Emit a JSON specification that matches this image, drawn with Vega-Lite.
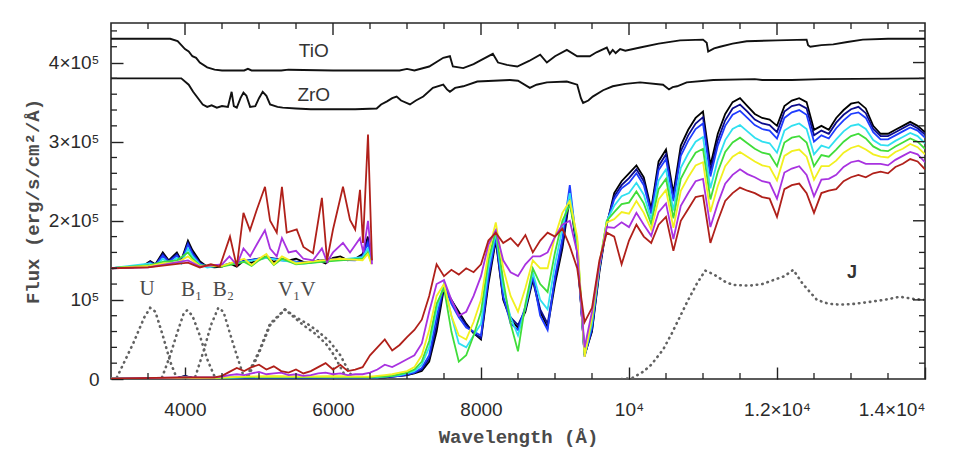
{
  "$schema": "https://vega.github.io/schema/vega-lite/v6.json",
  "width": 814,
  "height": 356,
  "autosize": "none",
  "padding": {"left": 111, "top": 23, "right": 40, "bottom": 70},
  "background": "white",
  "config": {
    "view": {"stroke": "#262626", "strokeWidth": 1.6},
    "axis": {"grid": false, "domain": false, "labelColor": "#2a2a2a", "titleColor": "#4a4a4a", "tickColor": "#222222", "tickWidth": 1.4}
  },
  "datasets": {
    "xt": [
      {"w":3500,"k":"minor"},{"w":4000,"k":"major"},{"w":4500,"k":"minor"},{"w":5000,"k":"minor"},{"w":5500,"k":"minor"},{"w":6000,"k":"major"},{"w":6500,"k":"minor"},{"w":7000,"k":"minor"},{"w":7500,"k":"minor"},{"w":8000,"k":"major"},{"w":8500,"k":"minor"},{"w":9000,"k":"minor"},{"w":9500,"k":"minor"},{"w":10000,"k":"major"},{"w":10500,"k":"minor"},{"w":11000,"k":"minor"},{"w":11500,"k":"minor"},{"w":12000,"k":"major"},{"w":12500,"k":"minor"},{"w":13000,"k":"minor"},{"w":13500,"k":"minor"}
    ],
    "yt": [
      {"f":20000,"k":"minor"},{"f":40000,"k":"minor"},{"f":60000,"k":"minor"},{"f":80000,"k":"minor"},{"f":100000,"k":"major"},{"f":120000,"k":"minor"},{"f":140000,"k":"minor"},{"f":160000,"k":"minor"},{"f":180000,"k":"minor"},{"f":200000,"k":"major"},{"f":220000,"k":"minor"},{"f":240000,"k":"minor"},{"f":260000,"k":"minor"},{"f":280000,"k":"minor"},{"f":300000,"k":"major"},{"f":320000,"k":"minor"},{"f":340000,"k":"minor"},{"f":360000,"k":"minor"},{"f":380000,"k":"minor"},{"f":400000,"k":"major"},{"f":420000,"k":"minor"},{"f":440000,"k":"minor"}
    ],
    "filters": [
      {"fl":"U","w":3080,"f":0.02e5},{"fl":"U","w":3300,"f":0.45e5},{"fl":"U","w":3450,"f":0.78e5},{"fl":"U","w":3530,"f":0.9e5},{"fl":"U","w":3600,"f":0.85e5},{"fl":"U","w":3700,"f":0.55e5},{"fl":"U","w":3800,"f":0.22e5},{"fl":"U","w":3880,"f":0.03e5},
      {"fl":"B1","w":3690,"f":0.02e5},{"fl":"B1","w":3800,"f":0.3e5},{"fl":"B1","w":3900,"f":0.6e5},{"fl":"B1","w":3980,"f":0.82e5},{"fl":"B1","w":4030,"f":0.87e5},{"fl":"B1","w":4100,"f":0.8e5},{"fl":"B1","w":4200,"f":0.55e5},{"fl":"B1","w":4300,"f":0.25e5},{"fl":"B1","w":4400,"f":0.03e5},
      {"fl":"B2","w":4140,"f":0.03e5},{"fl":"B2","w":4250,"f":0.35e5},{"fl":"B2","w":4350,"f":0.68e5},{"fl":"B2","w":4450,"f":0.9e5},{"fl":"B2","w":4520,"f":0.85e5},{"fl":"B2","w":4600,"f":0.6e5},{"fl":"B2","w":4700,"f":0.3e5},{"fl":"B2","w":4790,"f":0.04e5},
      {"fl":"V1","w":4840,"f":0.04e5},{"fl":"V1","w":5000,"f":0.35e5},{"fl":"V1","w":5150,"f":0.7e5},{"fl":"V1","w":5350,"f":0.88e5},{"fl":"V1","w":5500,"f":0.76e5},{"fl":"V1","w":5600,"f":0.68e5},{"fl":"V1","w":5750,"f":0.58e5},{"fl":"V1","w":5900,"f":0.45e5},{"fl":"V1","w":6000,"f":0.32e5},{"fl":"V1","w":6100,"f":0.15e5},{"fl":"V1","w":6170,"f":0.03e5},
      {"fl":"V","w":4860,"f":0.04e5},{"fl":"V","w":5000,"f":0.33e5},{"fl":"V","w":5150,"f":0.68e5},{"fl":"V","w":5350,"f":0.88e5},{"fl":"V","w":5500,"f":0.78e5},{"fl":"V","w":5650,"f":0.7e5},{"fl":"V","w":5800,"f":0.6e5},{"fl":"V","w":5950,"f":0.48e5},{"fl":"V","w":6100,"f":0.3e5},{"fl":"V","w":6200,"f":0.12e5},{"fl":"V","w":6260,"f":0.03e5},
      {"fl":"J","w":9900,"f":0.0},{"fl":"J","w":10040,"f":0.01e5},{"fl":"J","w":10190,"f":0.09e5},{"fl":"J","w":10300,"f":0.18e5},{"fl":"J","w":10460,"f":0.37e5},{"fl":"J","w":10580,"f":0.58e5},{"fl":"J","w":10690,"f":0.79e5},{"fl":"J","w":10800,"f":1.0e5},{"fl":"J","w":10920,"f":1.21e5},{"fl":"J","w":11030,"f":1.37e5},{"fl":"J","w":11150,"f":1.32e5},{"fl":"J","w":11300,"f":1.23e5},{"fl":"J","w":11400,"f":1.19e5},{"fl":"J","w":11630,"f":1.18e5},{"fl":"J","w":11800,"f":1.2e5},{"fl":"J","w":11950,"f":1.25e5},{"fl":"J","w":12100,"f":1.3e5},{"fl":"J","w":12220,"f":1.38e5},{"fl":"J","w":12350,"f":1.2e5},{"fl":"J","w":12540,"f":1.0e5},{"fl":"J","w":12700,"f":0.95e5},{"fl":"J","w":12850,"f":0.94e5},{"fl":"J","w":13050,"f":0.95e5},{"fl":"J","w":13220,"f":0.97e5},{"fl":"J","w":13450,"f":1.0e5},{"fl":"J","w":13660,"f":1.04e5},{"fl":"J","w":13860,"f":1.01e5},{"fl":"J","w":14000,"f":1.0e5}
    ],
    "bands": [
      {"m":"TiO","w":3000,"f":4.3e5},{"m":"TiO","w":3800,"f":4.3e5},{"m":"TiO","w":3900,"f":4.27e5},{"m":"TiO","w":4000,"f":4.17e5},{"m":"TiO","w":4050,"f":4.14e5},{"m":"TiO","w":4100,"f":4.08e5},{"m":"TiO","w":4150,"f":4.06e5},{"m":"TiO","w":4200,"f":4.0e5},{"m":"TiO","w":4300,"f":3.94e5},{"m":"TiO","w":4400,"f":3.91e5},{"m":"TiO","w":4500,"f":3.9e5},{"m":"TiO","w":4800,"f":3.9e5},{"m":"TiO","w":4850,"f":3.92e5},{"m":"TiO","w":4900,"f":3.9e5},{"m":"TiO","w":5300,"f":3.9e5},{"m":"TiO","w":5400,"f":3.91e5},{"m":"TiO","w":6000,"f":3.9e5},{"m":"TiO","w":6500,"f":3.9e5},{"m":"TiO","w":6900,"f":3.9e5},{"m":"TiO","w":7000,"f":3.92e5},{"m":"TiO","w":7100,"f":3.9e5},{"m":"TiO","w":7300,"f":3.95e5},{"m":"TiO","w":7490,"f":4.06e5},{"m":"TiO","w":7580,"f":4.08e5},{"m":"TiO","w":7620,"f":3.95e5},{"m":"TiO","w":7760,"f":3.93e5},{"m":"TiO","w":7900,"f":3.98e5},{"m":"TiO","w":8000,"f":4.03e5},{"m":"TiO","w":8160,"f":4.11e5},{"m":"TiO","w":8230,"f":4.0e5},{"m":"TiO","w":8350,"f":3.97e5},{"m":"TiO","w":8490,"f":3.95e5},{"m":"TiO","w":8650,"f":4.02e5},{"m":"TiO","w":8800,"f":4.1e5},{"m":"TiO","w":8890,"f":4.0e5},{"m":"TiO","w":9000,"f":4.08e5},{"m":"TiO","w":9160,"f":4.16e5},{"m":"TiO","w":9300,"f":4.08e5},{"m":"TiO","w":9470,"f":4.08e5},{"m":"TiO","w":9560,"f":4.13e5},{"m":"TiO","w":9700,"f":4.19e5},{"m":"TiO","w":9740,"f":4.11e5},{"m":"TiO","w":9780,"f":4.16e5},{"m":"TiO","w":9820,"f":4.12e5},{"m":"TiO","w":9880,"f":4.17e5},{"m":"TiO","w":9950,"f":4.15e5},{"m":"TiO","w":10150,"f":4.19e5},{"m":"TiO","w":10400,"f":4.24e5},{"m":"TiO","w":10690,"f":4.28e5},{"m":"TiO","w":11000,"f":4.29e5},{"m":"TiO","w":11050,"f":4.25e5},{"m":"TiO","w":11070,"f":4.14e5},{"m":"TiO","w":11150,"f":4.18e5},{"m":"TiO","w":11230,"f":4.2e5},{"m":"TiO","w":11400,"f":4.24e5},{"m":"TiO","w":11590,"f":4.27e5},{"m":"TiO","w":12000,"f":4.28e5},{"m":"TiO","w":12400,"f":4.29e5},{"m":"TiO","w":12420,"f":4.22e5},{"m":"TiO","w":12450,"f":4.2e5},{"m":"TiO","w":12600,"f":4.22e5},{"m":"TiO","w":12760,"f":4.23e5},{"m":"TiO","w":12950,"f":4.26e5},{"m":"TiO","w":13160,"f":4.29e5},{"m":"TiO","w":13500,"f":4.3e5},{"m":"TiO","w":14000,"f":4.3e5},
      {"m":"ZrO","w":3000,"f":3.8e5},{"m":"ZrO","w":3950,"f":3.8e5},{"m":"ZrO","w":4050,"f":3.72e5},{"m":"ZrO","w":4110,"f":3.63e5},{"m":"ZrO","w":4240,"f":3.47e5},{"m":"ZrO","w":4300,"f":3.44e5},{"m":"ZrO","w":4360,"f":3.46e5},{"m":"ZrO","w":4430,"f":3.43e5},{"m":"ZrO","w":4500,"f":3.45e5},{"m":"ZrO","w":4580,"f":3.44e5},{"m":"ZrO","w":4630,"f":3.63e5},{"m":"ZrO","w":4660,"f":3.45e5},{"m":"ZrO","w":4700,"f":3.43e5},{"m":"ZrO","w":4750,"f":3.55e5},{"m":"ZrO","w":4790,"f":3.62e5},{"m":"ZrO","w":4830,"f":3.58e5},{"m":"ZrO","w":4880,"f":3.44e5},{"m":"ZrO","w":4950,"f":3.45e5},{"m":"ZrO","w":5000,"f":3.55e5},{"m":"ZrO","w":5050,"f":3.63e5},{"m":"ZrO","w":5100,"f":3.58e5},{"m":"ZrO","w":5150,"f":3.47e5},{"m":"ZrO","w":5250,"f":3.44e5},{"m":"ZrO","w":5320,"f":3.43e5},{"m":"ZrO","w":5500,"f":3.42e5},{"m":"ZrO","w":5700,"f":3.41e5},{"m":"ZrO","w":6000,"f":3.41e5},{"m":"ZrO","w":6300,"f":3.41e5},{"m":"ZrO","w":6590,"f":3.42e5},{"m":"ZrO","w":6650,"f":3.47e5},{"m":"ZrO","w":6730,"f":3.51e5},{"m":"ZrO","w":6800,"f":3.55e5},{"m":"ZrO","w":6860,"f":3.57e5},{"m":"ZrO","w":6920,"f":3.52e5},{"m":"ZrO","w":7040,"f":3.47e5},{"m":"ZrO","w":7120,"f":3.52e5},{"m":"ZrO","w":7220,"f":3.57e5},{"m":"ZrO","w":7350,"f":3.68e5},{"m":"ZrO","w":7490,"f":3.72e5},{"m":"ZrO","w":7540,"f":3.66e5},{"m":"ZrO","w":7580,"f":3.63e5},{"m":"ZrO","w":7650,"f":3.68e5},{"m":"ZrO","w":7760,"f":3.7e5},{"m":"ZrO","w":7950,"f":3.76e5},{"m":"ZrO","w":8390,"f":3.78e5},{"m":"ZrO","w":8500,"f":3.77e5},{"m":"ZrO","w":8660,"f":3.68e5},{"m":"ZrO","w":8750,"f":3.72e5},{"m":"ZrO","w":8890,"f":3.75e5},{"m":"ZrO","w":9160,"f":3.76e5},{"m":"ZrO","w":9300,"f":3.72e5},{"m":"ZrO","w":9350,"f":3.55e5},{"m":"ZrO","w":9380,"f":3.49e5},{"m":"ZrO","w":9450,"f":3.52e5},{"m":"ZrO","w":9510,"f":3.57e5},{"m":"ZrO","w":9650,"f":3.65e5},{"m":"ZrO","w":9780,"f":3.7e5},{"m":"ZrO","w":9950,"f":3.73e5},{"m":"ZrO","w":10150,"f":3.75e5},{"m":"ZrO","w":10460,"f":3.72e5},{"m":"ZrO","w":10540,"f":3.66e5},{"m":"ZrO","w":10590,"f":3.69e5},{"m":"ZrO","w":10650,"f":3.7e5},{"m":"ZrO","w":10780,"f":3.75e5},{"m":"ZrO","w":11140,"f":3.78e5},{"m":"ZrO","w":11700,"f":3.79e5},{"m":"ZrO","w":11800,"f":3.78e5},{"m":"ZrO","w":12200,"f":3.78e5},{"m":"ZrO","w":12600,"f":3.79e5},{"m":"ZrO","w":14000,"f":3.8e5}
    ],
    "spec": [
      {"s":"k","w":3000,"f":0.005e5},{"s":"k","w":3500,"f":0.01e5},{"s":"k","w":3900,"f":0.015e5},{"s":"k","w":4000,"f":0.04e5},{"s":"k","w":4100,"f":0.015e5},{"s":"k","w":4400,"f":0.01e5},{"s":"k","w":4800,"f":0.015e5},{"s":"k","w":5200,"f":0.02e5},{"s":"k","w":5600,"f":0.015e5},{"s":"k","w":6000,"f":0.02e5},{"s":"k","w":6400,"f":0.02e5},
      {"s":"k","w":6500,"f":0.02e5},{"s":"k","w":6600,"f":0.02e5},{"s":"k","w":6700,"f":0.02e5},{"s":"k","w":6800,"f":0.03e5},{"s":"k","w":6900,"f":0.04e5},{"s":"k","w":7000,"f":0.05e5},{"s":"k","w":7100,"f":0.07e5},{"s":"k","w":7200,"f":0.1e5},{"s":"k","w":7300,"f":0.22e5},{"s":"k","w":7400,"f":0.6e5},{"s":"k","w":7500,"f":1.15e5},{"s":"k","w":7600,"f":1.0e5},{"s":"k","w":7700,"f":0.85e5},{"s":"k","w":7800,"f":0.7e5},{"s":"k","w":7900,"f":0.58e5},{"s":"k","w":8000,"f":0.5e5},{"s":"k","w":8100,"f":1.2e5},{"s":"k","w":8200,"f":1.75e5},{"s":"k","w":8300,"f":1.0e5},{"s":"k","w":8400,"f":0.75e5},{"s":"k","w":8500,"f":0.65e5},{"s":"k","w":8600,"f":0.85e5},{"s":"k","w":8700,"f":1.25e5},{"s":"k","w":8800,"f":0.85e5},{"s":"k","w":8900,"f":0.65e5},{"s":"k","w":9000,"f":1.2e5},{"s":"k","w":9100,"f":1.65e5},{"s":"k","w":9200,"f":2.3e5},{"s":"k","w":9300,"f":1.6e5},{"s":"k","w":9400,"f":0.3e5},{"s":"k","w":9500,"f":0.6e5},{"s":"k","w":9600,"f":1.35e5},{"s":"k","w":9700,"f":1.95e5},
      {"s":"k","w":9800,"f":2.35e5},{"s":"k","w":9900,"f":2.5e5},{"s":"k","w":10000,"f":2.6e5},{"s":"k","w":10100,"f":2.7e5},{"s":"k","w":10200,"f":2.55e5},{"s":"k","w":10300,"f":2.15e5},{"s":"k","w":10400,"f":2.75e5},{"s":"k","w":10500,"f":2.9e5},{"s":"k","w":10600,"f":2.35e5},{"s":"k","w":10700,"f":2.95e5},{"s":"k","w":10800,"f":3.15e5},{"s":"k","w":10900,"f":3.3e5},{"s":"k","w":11000,"f":3.38e5},{"s":"k","w":11100,"f":2.7e5},{"s":"k","w":11200,"f":3.1e5},{"s":"k","w":11300,"f":3.35e5},{"s":"k","w":11400,"f":3.5e5},{"s":"k","w":11500,"f":3.55e5},{"s":"k","w":11600,"f":3.45e5},{"s":"k","w":11700,"f":3.35e5},{"s":"k","w":11800,"f":3.3e5},{"s":"k","w":11900,"f":3.28e5},{"s":"k","w":12000,"f":3.2e5},{"s":"k","w":12100,"f":3.45e5},{"s":"k","w":12200,"f":3.52e5},{"s":"k","w":12300,"f":3.55e5},{"s":"k","w":12400,"f":3.5e5},{"s":"k","w":12500,"f":3.15e5},{"s":"k","w":12600,"f":3.2e5},{"s":"k","w":12700,"f":3.15e5},{"s":"k","w":12800,"f":3.3e5},{"s":"k","w":12900,"f":3.4e5},{"s":"k","w":13000,"f":3.48e5},{"s":"k","w":13100,"f":3.5e5},{"s":"k","w":13200,"f":3.42e5},{"s":"k","w":13300,"f":3.2e5},{"s":"k","w":13400,"f":3.1e5},{"s":"k","w":13500,"f":3.1e5},{"s":"k","w":13600,"f":3.15e5},{"s":"k","w":13700,"f":3.2e5},{"s":"k","w":13800,"f":3.25e5},{"s":"k","w":13900,"f":3.2e5},{"s":"k","w":14000,"f":3.12e5},

      {"s":"n","w":3000,"f":0.005e5},{"s":"n","w":3500,"f":0.01e5},{"s":"n","w":3900,"f":0.015e5},{"s":"n","w":4000,"f":0.035e5},{"s":"n","w":4100,"f":0.015e5},{"s":"n","w":4400,"f":0.01e5},{"s":"n","w":4800,"f":0.015e5},{"s":"n","w":5200,"f":0.02e5},{"s":"n","w":5600,"f":0.015e5},{"s":"n","w":6000,"f":0.02e5},{"s":"n","w":6400,"f":0.02e5},
      {"s":"n","w":6500,"f":0.02e5},{"s":"n","w":6600,"f":0.02e5},{"s":"n","w":6700,"f":0.02e5},{"s":"n","w":6800,"f":0.03e5},{"s":"n","w":6900,"f":0.04e5},{"s":"n","w":7000,"f":0.05e5},{"s":"n","w":7100,"f":0.08e5},{"s":"n","w":7200,"f":0.12e5},{"s":"n","w":7300,"f":0.26e5},{"s":"n","w":7400,"f":0.68e5},{"s":"n","w":7500,"f":1.18e5},{"s":"n","w":7600,"f":1.0e5},{"s":"n","w":7700,"f":0.82e5},{"s":"n","w":7800,"f":0.68e5},{"s":"n","w":7900,"f":0.58e5},{"s":"n","w":8000,"f":0.52e5},{"s":"n","w":8100,"f":1.25e5},{"s":"n","w":8200,"f":1.78e5},{"s":"n","w":8300,"f":1.02e5},{"s":"n","w":8400,"f":0.78e5},{"s":"n","w":8500,"f":0.68e5},{"s":"n","w":8600,"f":0.88e5},{"s":"n","w":8700,"f":1.28e5},{"s":"n","w":8800,"f":0.88e5},{"s":"n","w":8900,"f":0.7e5},{"s":"n","w":9000,"f":1.25e5},{"s":"n","w":9100,"f":1.7e5},{"s":"n","w":9200,"f":2.35e5},{"s":"n","w":9300,"f":1.62e5},{"s":"n","w":9400,"f":0.3e5},{"s":"n","w":9500,"f":0.62e5},{"s":"n","w":9600,"f":1.38e5},{"s":"n","w":9700,"f":1.96e5},
      {"s":"n","w":9800,"f":2.31e5},{"s":"n","w":9900,"f":2.45e5},{"s":"n","w":10000,"f":2.54e5},{"s":"n","w":10100,"f":2.65e5},{"s":"n","w":10200,"f":2.5e5},{"s":"n","w":10300,"f":2.12e5},{"s":"n","w":10400,"f":2.69e5},{"s":"n","w":10500,"f":2.84e5},{"s":"n","w":10600,"f":2.3e5},{"s":"n","w":10700,"f":2.88e5},{"s":"n","w":10800,"f":3.08e5},{"s":"n","w":10900,"f":3.23e5},{"s":"n","w":11000,"f":3.31e5},{"s":"n","w":11100,"f":2.63e5},{"s":"n","w":11200,"f":3.02e5},{"s":"n","w":11300,"f":3.27e5},{"s":"n","w":11400,"f":3.42e5},{"s":"n","w":11500,"f":3.47e5},{"s":"n","w":11600,"f":3.38e5},{"s":"n","w":11700,"f":3.28e5},{"s":"n","w":11800,"f":3.23e5},{"s":"n","w":11900,"f":3.21e5},{"s":"n","w":12000,"f":3.12e5},{"s":"n","w":12100,"f":3.38e5},{"s":"n","w":12200,"f":3.45e5},{"s":"n","w":12300,"f":3.47e5},{"s":"n","w":12400,"f":3.42e5},{"s":"n","w":12500,"f":3.08e5},{"s":"n","w":12600,"f":3.14e5},{"s":"n","w":12700,"f":3.1e5},{"s":"n","w":12800,"f":3.24e5},{"s":"n","w":12900,"f":3.34e5},{"s":"n","w":13000,"f":3.41e5},{"s":"n","w":13100,"f":3.44e5},{"s":"n","w":13200,"f":3.36e5},{"s":"n","w":13300,"f":3.16e5},{"s":"n","w":13400,"f":3.07e5},{"s":"n","w":13500,"f":3.07e5},{"s":"n","w":13600,"f":3.12e5},{"s":"n","w":13700,"f":3.17e5},{"s":"n","w":13800,"f":3.22e5},{"s":"n","w":13900,"f":3.17e5},{"s":"n","w":14000,"f":3.09e5},

      {"s":"b","w":3000,"f":0.005e5},{"s":"b","w":3500,"f":0.01e5},{"s":"b","w":3900,"f":0.015e5},{"s":"b","w":4000,"f":0.03e5},{"s":"b","w":4100,"f":0.015e5},{"s":"b","w":4400,"f":0.01e5},{"s":"b","w":4800,"f":0.02e5},{"s":"b","w":5200,"f":0.02e5},{"s":"b","w":5600,"f":0.02e5},{"s":"b","w":6000,"f":0.02e5},{"s":"b","w":6400,"f":0.02e5},
      {"s":"b","w":6500,"f":0.02e5},{"s":"b","w":6600,"f":0.02e5},{"s":"b","w":6700,"f":0.03e5},{"s":"b","w":6800,"f":0.03e5},{"s":"b","w":6900,"f":0.04e5},{"s":"b","w":7000,"f":0.06e5},{"s":"b","w":7100,"f":0.08e5},{"s":"b","w":7200,"f":0.14e5},{"s":"b","w":7300,"f":0.3e5},{"s":"b","w":7400,"f":0.78e5},{"s":"b","w":7500,"f":1.2e5},{"s":"b","w":7600,"f":0.95e5},{"s":"b","w":7700,"f":0.78e5},{"s":"b","w":7800,"f":0.65e5},{"s":"b","w":7900,"f":0.6e5},{"s":"b","w":8000,"f":0.55e5},{"s":"b","w":8100,"f":1.3e5},{"s":"b","w":8200,"f":1.8e5},{"s":"b","w":8300,"f":1.05e5},{"s":"b","w":8400,"f":0.7e5},{"s":"b","w":8500,"f":0.62e5},{"s":"b","w":8600,"f":0.92e5},{"s":"b","w":8700,"f":1.3e5},{"s":"b","w":8800,"f":0.8e5},{"s":"b","w":8900,"f":0.62e5},{"s":"b","w":9000,"f":1.3e5},{"s":"b","w":9100,"f":1.78e5},{"s":"b","w":9200,"f":2.45e5},{"s":"b","w":9300,"f":1.65e5},{"s":"b","w":9400,"f":0.28e5},{"s":"b","w":9500,"f":0.65e5},{"s":"b","w":9600,"f":1.4e5},{"s":"b","w":9700,"f":1.98e5},
      {"s":"b","w":9800,"f":2.27e5},{"s":"b","w":9900,"f":2.41e5},{"s":"b","w":10000,"f":2.48e5},{"s":"b","w":10100,"f":2.6e5},{"s":"b","w":10200,"f":2.45e5},{"s":"b","w":10300,"f":2.09e5},{"s":"b","w":10400,"f":2.64e5},{"s":"b","w":10500,"f":2.78e5},{"s":"b","w":10600,"f":2.25e5},{"s":"b","w":10700,"f":2.82e5},{"s":"b","w":10800,"f":3.01e5},{"s":"b","w":10900,"f":3.16e5},{"s":"b","w":11000,"f":3.23e5},{"s":"b","w":11100,"f":2.56e5},{"s":"b","w":11200,"f":2.95e5},{"s":"b","w":11300,"f":3.2e5},{"s":"b","w":11400,"f":3.34e5},{"s":"b","w":11500,"f":3.39e5},{"s":"b","w":11600,"f":3.3e5},{"s":"b","w":11700,"f":3.21e5},{"s":"b","w":11800,"f":3.16e5},{"s":"b","w":11900,"f":3.14e5},{"s":"b","w":12000,"f":3.04e5},{"s":"b","w":12100,"f":3.3e5},{"s":"b","w":12200,"f":3.37e5},{"s":"b","w":12300,"f":3.4e5},{"s":"b","w":12400,"f":3.34e5},{"s":"b","w":12500,"f":3.0e5},{"s":"b","w":12600,"f":3.08e5},{"s":"b","w":12700,"f":3.04e5},{"s":"b","w":12800,"f":3.17e5},{"s":"b","w":12900,"f":3.27e5},{"s":"b","w":13000,"f":3.35e5},{"s":"b","w":13100,"f":3.37e5},{"s":"b","w":13200,"f":3.3e5},{"s":"b","w":13300,"f":3.12e5},{"s":"b","w":13400,"f":3.03e5},{"s":"b","w":13500,"f":3.03e5},{"s":"b","w":13600,"f":3.08e5},{"s":"b","w":13700,"f":3.13e5},{"s":"b","w":13800,"f":3.18e5},{"s":"b","w":13900,"f":3.14e5},{"s":"b","w":14000,"f":3.05e5},

      {"s":"c","w":3000,"f":0.005e5},{"s":"c","w":3500,"f":0.008e5},{"s":"c","w":3900,"f":0.012e5},{"s":"c","w":4000,"f":0.025e5},{"s":"c","w":4100,"f":0.012e5},{"s":"c","w":4400,"f":0.012e5},{"s":"c","w":4800,"f":0.02e5},{"s":"c","w":5200,"f":0.025e5},{"s":"c","w":5600,"f":0.02e5},{"s":"c","w":6000,"f":0.025e5},{"s":"c","w":6400,"f":0.02e5},
      {"s":"c","w":6500,"f":0.02e5},{"s":"c","w":6600,"f":0.02e5},{"s":"c","w":6700,"f":0.03e5},{"s":"c","w":6800,"f":0.04e5},{"s":"c","w":6900,"f":0.05e5},{"s":"c","w":7000,"f":0.07e5},{"s":"c","w":7100,"f":0.1e5},{"s":"c","w":7200,"f":0.18e5},{"s":"c","w":7300,"f":0.4e5},{"s":"c","w":7400,"f":0.88e5},{"s":"c","w":7500,"f":1.2e5},{"s":"c","w":7600,"f":0.8e5},{"s":"c","w":7700,"f":0.45e5},{"s":"c","w":7800,"f":0.4e5},{"s":"c","w":7900,"f":0.55e5},{"s":"c","w":8000,"f":0.7e5},{"s":"c","w":8100,"f":1.4e5},{"s":"c","w":8200,"f":1.85e5},{"s":"c","w":8300,"f":1.15e5},{"s":"c","w":8400,"f":0.78e5},{"s":"c","w":8500,"f":0.55e5},{"s":"c","w":8600,"f":0.9e5},{"s":"c","w":8700,"f":1.35e5},{"s":"c","w":8800,"f":1.0e5},{"s":"c","w":8900,"f":0.88e5},{"s":"c","w":9000,"f":1.45e5},{"s":"c","w":9100,"f":1.9e5},{"s":"c","w":9200,"f":2.35e5},{"s":"c","w":9300,"f":1.7e5},{"s":"c","w":9400,"f":0.3e5},{"s":"c","w":9500,"f":0.7e5},{"s":"c","w":9600,"f":1.42e5},{"s":"c","w":9700,"f":2.0e5},
      {"s":"c","w":9800,"f":2.19e5},{"s":"c","w":9900,"f":2.31e5},{"s":"c","w":10000,"f":2.35e5},{"s":"c","w":10100,"f":2.48e5},{"s":"c","w":10200,"f":2.33e5},{"s":"c","w":10300,"f":2.02e5},{"s":"c","w":10400,"f":2.51e5},{"s":"c","w":10500,"f":2.65e5},{"s":"c","w":10600,"f":2.13e5},{"s":"c","w":10700,"f":2.67e5},{"s":"c","w":10800,"f":2.85e5},{"s":"c","w":10900,"f":3.0e5},{"s":"c","w":11000,"f":3.06e5},{"s":"c","w":11100,"f":2.41e5},{"s":"c","w":11200,"f":2.77e5},{"s":"c","w":11300,"f":3.02e5},{"s":"c","w":11400,"f":3.16e5},{"s":"c","w":11500,"f":3.21e5},{"s":"c","w":11600,"f":3.13e5},{"s":"c","w":11700,"f":3.05e5},{"s":"c","w":11800,"f":3.0e5},{"s":"c","w":11900,"f":2.98e5},{"s":"c","w":12000,"f":2.86e5},{"s":"c","w":12100,"f":3.14e5},{"s":"c","w":12200,"f":3.2e5},{"s":"c","w":12300,"f":3.23e5},{"s":"c","w":12400,"f":3.16e5},{"s":"c","w":12500,"f":2.84e5},{"s":"c","w":12600,"f":2.95e5},{"s":"c","w":12700,"f":2.92e5},{"s":"c","w":12800,"f":3.03e5},{"s":"c","w":12900,"f":3.13e5},{"s":"c","w":13000,"f":3.2e5},{"s":"c","w":13100,"f":3.22e5},{"s":"c","w":13200,"f":3.16e5},{"s":"c","w":13300,"f":3.02e5},{"s":"c","w":13400,"f":2.96e5},{"s":"c","w":13500,"f":2.95e5},{"s":"c","w":13600,"f":3.01e5},{"s":"c","w":13700,"f":3.06e5},{"s":"c","w":13800,"f":3.11e5},{"s":"c","w":13900,"f":3.07e5},{"s":"c","w":14000,"f":2.98e5},

      {"s":"g","w":3000,"f":0.005e5},{"s":"g","w":3500,"f":0.008e5},{"s":"g","w":3900,"f":0.01e5},{"s":"g","w":4000,"f":0.02e5},{"s":"g","w":4100,"f":0.01e5},{"s":"g","w":4400,"f":0.012e5},{"s":"g","w":4800,"f":0.025e5},{"s":"g","w":5200,"f":0.03e5},{"s":"g","w":5600,"f":0.025e5},{"s":"g","w":6000,"f":0.03e5},{"s":"g","w":6400,"f":0.025e5},
      {"s":"g","w":6500,"f":0.02e5},{"s":"g","w":6600,"f":0.03e5},{"s":"g","w":6700,"f":0.03e5},{"s":"g","w":6800,"f":0.04e5},{"s":"g","w":6900,"f":0.06e5},{"s":"g","w":7000,"f":0.08e5},{"s":"g","w":7100,"f":0.12e5},{"s":"g","w":7200,"f":0.22e5},{"s":"g","w":7300,"f":0.48e5},{"s":"g","w":7400,"f":0.95e5},{"s":"g","w":7500,"f":1.15e5},{"s":"g","w":7600,"f":0.6e5},{"s":"g","w":7700,"f":0.22e5},{"s":"g","w":7800,"f":0.3e5},{"s":"g","w":7900,"f":0.55e5},{"s":"g","w":8000,"f":0.85e5},{"s":"g","w":8100,"f":1.5e5},{"s":"g","w":8200,"f":1.88e5},{"s":"g","w":8300,"f":1.25e5},{"s":"g","w":8400,"f":0.7e5},{"s":"g","w":8500,"f":0.35e5},{"s":"g","w":8600,"f":0.95e5},{"s":"g","w":8700,"f":1.4e5},{"s":"g","w":8800,"f":1.2e5},{"s":"g","w":8900,"f":1.1e5},{"s":"g","w":9000,"f":1.6e5},{"s":"g","w":9100,"f":2.0e5},{"s":"g","w":9200,"f":2.2e5},{"s":"g","w":9300,"f":1.75e5},{"s":"g","w":9400,"f":0.32e5},{"s":"g","w":9500,"f":0.75e5},{"s":"g","w":9600,"f":1.45e5},{"s":"g","w":9700,"f":2.0e5},
      {"s":"g","w":9800,"f":2.11e5},{"s":"g","w":9900,"f":2.21e5},{"s":"g","w":10000,"f":2.23e5},{"s":"g","w":10100,"f":2.37e5},{"s":"g","w":10200,"f":2.22e5},{"s":"g","w":10300,"f":1.96e5},{"s":"g","w":10400,"f":2.4e5},{"s":"g","w":10500,"f":2.53e5},{"s":"g","w":10600,"f":2.03e5},{"s":"g","w":10700,"f":2.53e5},{"s":"g","w":10800,"f":2.71e5},{"s":"g","w":10900,"f":2.86e5},{"s":"g","w":11000,"f":2.91e5},{"s":"g","w":11100,"f":2.27e5},{"s":"g","w":11200,"f":2.62e5},{"s":"g","w":11300,"f":2.87e5},{"s":"g","w":11400,"f":2.99e5},{"s":"g","w":11500,"f":3.05e5},{"s":"g","w":11600,"f":2.98e5},{"s":"g","w":11700,"f":2.91e5},{"s":"g","w":11800,"f":2.86e5},{"s":"g","w":11900,"f":2.84e5},{"s":"g","w":12000,"f":2.69e5},{"s":"g","w":12100,"f":2.99e5},{"s":"g","w":12200,"f":3.05e5},{"s":"g","w":12300,"f":3.07e5},{"s":"g","w":12400,"f":2.99e5},{"s":"g","w":12500,"f":2.69e5},{"s":"g","w":12600,"f":2.83e5},{"s":"g","w":12700,"f":2.81e5},{"s":"g","w":12800,"f":2.9e5},{"s":"g","w":12900,"f":3.0e5},{"s":"g","w":13000,"f":3.07e5},{"s":"g","w":13100,"f":3.1e5},{"s":"g","w":13200,"f":3.04e5},{"s":"g","w":13300,"f":2.94e5},{"s":"g","w":13400,"f":2.89e5},{"s":"g","w":13500,"f":2.88e5},{"s":"g","w":13600,"f":2.94e5},{"s":"g","w":13700,"f":2.99e5},{"s":"g","w":13800,"f":3.04e5},{"s":"g","w":13900,"f":3.0e5},{"s":"g","w":14000,"f":2.91e5},

      {"s":"y","w":3000,"f":0.005e5},{"s":"y","w":3500,"f":0.008e5},{"s":"y","w":3900,"f":0.01e5},{"s":"y","w":4000,"f":0.02e5},{"s":"y","w":4100,"f":0.01e5},{"s":"y","w":4400,"f":0.015e5},{"s":"y","w":4800,"f":0.03e5},{"s":"y","w":5200,"f":0.035e5},{"s":"y","w":5600,"f":0.03e5},{"s":"y","w":6000,"f":0.035e5},{"s":"y","w":6400,"f":0.03e5},
      {"s":"y","w":6500,"f":0.03e5},{"s":"y","w":6600,"f":0.04e5},{"s":"y","w":6700,"f":0.05e5},{"s":"y","w":6800,"f":0.06e5},{"s":"y","w":6900,"f":0.08e5},{"s":"y","w":7000,"f":0.1e5},{"s":"y","w":7100,"f":0.15e5},{"s":"y","w":7200,"f":0.3e5},{"s":"y","w":7300,"f":0.62e5},{"s":"y","w":7400,"f":1.05e5},{"s":"y","w":7500,"f":1.2e5},{"s":"y","w":7600,"f":0.8e5},{"s":"y","w":7700,"f":0.55e5},{"s":"y","w":7800,"f":0.5e5},{"s":"y","w":7900,"f":0.72e5},{"s":"y","w":8000,"f":1.0e5},{"s":"y","w":8100,"f":1.6e5},{"s":"y","w":8200,"f":1.98e5},{"s":"y","w":8300,"f":1.4e5},{"s":"y","w":8400,"f":1.05e5},{"s":"y","w":8500,"f":0.85e5},{"s":"y","w":8600,"f":1.15e5},{"s":"y","w":8700,"f":1.5e5},{"s":"y","w":8800,"f":1.4e5},{"s":"y","w":8900,"f":1.4e5},{"s":"y","w":9000,"f":1.8e5},{"s":"y","w":9100,"f":2.1e5},{"s":"y","w":9200,"f":2.25e5},{"s":"y","w":9300,"f":1.8e5},{"s":"y","w":9400,"f":0.28e5},{"s":"y","w":9500,"f":0.78e5},{"s":"y","w":9600,"f":1.45e5},{"s":"y","w":9700,"f":1.98e5},
      {"s":"y","w":9800,"f":2.02e5},{"s":"y","w":9900,"f":2.11e5},{"s":"y","w":10000,"f":2.09e5},{"s":"y","w":10100,"f":2.25e5},{"s":"y","w":10200,"f":2.1e5},{"s":"y","w":10300,"f":1.89e5},{"s":"y","w":10400,"f":2.27e5},{"s":"y","w":10500,"f":2.39e5},{"s":"y","w":10600,"f":1.91e5},{"s":"y","w":10700,"f":2.38e5},{"s":"y","w":10800,"f":2.55e5},{"s":"y","w":10900,"f":2.7e5},{"s":"y","w":11000,"f":2.74e5},{"s":"y","w":11100,"f":2.11e5},{"s":"y","w":11200,"f":2.44e5},{"s":"y","w":11300,"f":2.69e5},{"s":"y","w":11400,"f":2.81e5},{"s":"y","w":11500,"f":2.87e5},{"s":"y","w":11600,"f":2.81e5},{"s":"y","w":11700,"f":2.75e5},{"s":"y","w":11800,"f":2.7e5},{"s":"y","w":11900,"f":2.68e5},{"s":"y","w":12000,"f":2.51e5},{"s":"y","w":12100,"f":2.82e5},{"s":"y","w":12200,"f":2.88e5},{"s":"y","w":12300,"f":2.9e5},{"s":"y","w":12400,"f":2.81e5},{"s":"y","w":12500,"f":2.52e5},{"s":"y","w":12600,"f":2.69e5},{"s":"y","w":12700,"f":2.69e5},{"s":"y","w":12800,"f":2.76e5},{"s":"y","w":12900,"f":2.86e5},{"s":"y","w":13000,"f":2.92e5},{"s":"y","w":13100,"f":2.95e5},{"s":"y","w":13200,"f":2.9e5},{"s":"y","w":13300,"f":2.84e5},{"s":"y","w":13400,"f":2.81e5},{"s":"y","w":13500,"f":2.8e5},{"s":"y","w":13600,"f":2.87e5},{"s":"y","w":13700,"f":2.91e5},{"s":"y","w":13800,"f":2.97e5},{"s":"y","w":13900,"f":2.93e5},{"s":"y","w":14000,"f":2.84e5},

      {"s":"p","w":3000,"f":0.005e5},{"s":"p","w":4000,"f":0.02e5},{"s":"p","w":4400,"f":0.02e5},{"s":"p","w":4500,"f":0.03e5},{"s":"p","w":4600,"f":0.05e5},{"s":"p","w":4700,"f":0.06e5},{"s":"p","w":4800,"f":0.05e5},{"s":"p","w":4900,"f":0.07e5},{"s":"p","w":5000,"f":0.09e5},{"s":"p","w":5100,"f":0.06e5},{"s":"p","w":5200,"f":0.07e5},{"s":"p","w":5300,"f":0.08e5},{"s":"p","w":5400,"f":0.05e5},{"s":"p","w":5500,"f":0.06e5},{"s":"p","w":5600,"f":0.04e5},{"s":"p","w":5700,"f":0.05e5},{"s":"p","w":5800,"f":0.07e5},{"s":"p","w":5900,"f":0.08e5},{"s":"p","w":6000,"f":0.06e5},{"s":"p","w":6100,"f":0.07e5},{"s":"p","w":6200,"f":0.05e5},{"s":"p","w":6300,"f":0.06e5},{"s":"p","w":6400,"f":0.06e5},
      {"s":"p","w":6500,"f":0.08e5},{"s":"p","w":6600,"f":0.12e5},{"s":"p","w":6700,"f":0.18e5},{"s":"p","w":6800,"f":0.15e5},{"s":"p","w":6900,"f":0.2e5},{"s":"p","w":7000,"f":0.25e5},{"s":"p","w":7100,"f":0.3e5},{"s":"p","w":7200,"f":0.45e5},{"s":"p","w":7300,"f":0.85e5},{"s":"p","w":7400,"f":1.2e5},{"s":"p","w":7500,"f":1.25e5},{"s":"p","w":7600,"f":1.0e5},{"s":"p","w":7700,"f":0.8e5},{"s":"p","w":7800,"f":0.85e5},{"s":"p","w":7900,"f":1.05e5},{"s":"p","w":8000,"f":1.3e5},{"s":"p","w":8100,"f":1.7e5},{"s":"p","w":8200,"f":1.88e5},{"s":"p","w":8300,"f":1.5e5},{"s":"p","w":8400,"f":1.35e5},{"s":"p","w":8500,"f":1.3e5},{"s":"p","w":8600,"f":1.45e5},{"s":"p","w":8700,"f":1.55e5},{"s":"p","w":8800,"f":1.55e5},{"s":"p","w":8900,"f":1.6e5},{"s":"p","w":9000,"f":1.8e5},{"s":"p","w":9100,"f":1.95e5},{"s":"p","w":9200,"f":2.0e5},{"s":"p","w":9300,"f":1.6e5},{"s":"p","w":9400,"f":0.4e5},{"s":"p","w":9500,"f":0.85e5},{"s":"p","w":9600,"f":1.45e5},{"s":"p","w":9700,"f":1.92e5},
      {"s":"p","w":9800,"f":1.91e5},{"s":"p","w":9900,"f":1.98e5},{"s":"p","w":10000,"f":1.92e5},{"s":"p","w":10100,"f":2.1e5},{"s":"p","w":10200,"f":1.95e5},{"s":"p","w":10300,"f":1.81e5},{"s":"p","w":10400,"f":2.11e5},{"s":"p","w":10500,"f":2.22e5},{"s":"p","w":10600,"f":1.77e5},{"s":"p","w":10700,"f":2.19e5},{"s":"p","w":10800,"f":2.35e5},{"s":"p","w":10900,"f":2.5e5},{"s":"p","w":11000,"f":2.53e5},{"s":"p","w":11100,"f":1.92e5},{"s":"p","w":11200,"f":2.22e5},{"s":"p","w":11300,"f":2.47e5},{"s":"p","w":11400,"f":2.58e5},{"s":"p","w":11500,"f":2.65e5},{"s":"p","w":11600,"f":2.59e5},{"s":"p","w":11700,"f":2.55e5},{"s":"p","w":11800,"f":2.5e5},{"s":"p","w":11900,"f":2.48e5},{"s":"p","w":12000,"f":2.28e5},{"s":"p","w":12100,"f":2.61e5},{"s":"p","w":12200,"f":2.66e5},{"s":"p","w":12300,"f":2.69e5},{"s":"p","w":12400,"f":2.58e5},{"s":"p","w":12500,"f":2.31e5},{"s":"p","w":12600,"f":2.52e5},{"s":"p","w":12700,"f":2.53e5},{"s":"p","w":12800,"f":2.58e5},{"s":"p","w":12900,"f":2.68e5},{"s":"p","w":13000,"f":2.74e5},{"s":"p","w":13100,"f":2.76e5},{"s":"p","w":13200,"f":2.72e5},{"s":"p","w":13300,"f":2.72e5},{"s":"p","w":13400,"f":2.72e5},{"s":"p","w":13500,"f":2.7e5},{"s":"p","w":13600,"f":2.77e5},{"s":"p","w":13700,"f":2.82e5},{"s":"p","w":13800,"f":2.87e5},{"s":"p","w":13900,"f":2.84e5},{"s":"p","w":14000,"f":2.74e5},

      {"s":"r","w":3000,"f":0.005e5},{"s":"r","w":4000,"f":0.02e5},{"s":"r","w":4400,"f":0.02e5},{"s":"r","w":4500,"f":0.04e5},{"s":"r","w":4600,"f":0.09e5},{"s":"r","w":4700,"f":0.14e5},{"s":"r","w":4800,"f":0.1e5},{"s":"r","w":4900,"f":0.15e5},{"s":"r","w":5000,"f":0.18e5},{"s":"r","w":5100,"f":0.12e5},{"s":"r","w":5200,"f":0.16e5},{"s":"r","w":5300,"f":0.1e5},{"s":"r","w":5400,"f":0.08e5},{"s":"r","w":5500,"f":0.12e5},{"s":"r","w":5600,"f":0.07e5},{"s":"r","w":5700,"f":0.1e5},{"s":"r","w":5800,"f":0.15e5},{"s":"r","w":5900,"f":0.2e5},{"s":"r","w":6000,"f":0.12e5},{"s":"r","w":6100,"f":0.18e5},{"s":"r","w":6200,"f":0.1e5},{"s":"r","w":6300,"f":0.12e5},{"s":"r","w":6400,"f":0.15e5},
      {"s":"r","w":6500,"f":0.3e5},{"s":"r","w":6600,"f":0.4e5},{"s":"r","w":6700,"f":0.5e5},{"s":"r","w":6800,"f":0.36e5},{"s":"r","w":6900,"f":0.43e5},{"s":"r","w":7000,"f":0.53e5},{"s":"r","w":7100,"f":0.62e5},{"s":"r","w":7200,"f":0.75e5},{"s":"r","w":7300,"f":1.05e5},{"s":"r","w":7400,"f":1.45e5},{"s":"r","w":7500,"f":1.3e5},{"s":"r","w":7600,"f":1.38e5},{"s":"r","w":7700,"f":1.32e5},{"s":"r","w":7800,"f":1.4e5},{"s":"r","w":7900,"f":1.35e5},{"s":"r","w":8000,"f":1.45e5},{"s":"r","w":8100,"f":1.75e5},{"s":"r","w":8200,"f":1.85e5},{"s":"r","w":8300,"f":1.72e5},{"s":"r","w":8400,"f":1.78e5},{"s":"r","w":8500,"f":1.68e5},{"s":"r","w":8600,"f":1.82e5},{"s":"r","w":8700,"f":1.6e5},{"s":"r","w":8800,"f":1.75e5},{"s":"r","w":8900,"f":1.85e5},{"s":"r","w":9000,"f":1.8e5},{"s":"r","w":9100,"f":1.9e5},{"s":"r","w":9200,"f":1.68e5},{"s":"r","w":9300,"f":1.4e5},{"s":"r","w":9400,"f":0.72e5},{"s":"r","w":9500,"f":0.9e5},{"s":"r","w":9600,"f":1.5e5},{"s":"r","w":9700,"f":1.85e5},
      {"s":"r","w":9800,"f":1.8e5},{"s":"r","w":9900,"f":1.45e5},{"s":"r","w":10000,"f":1.75e5},{"s":"r","w":10100,"f":1.95e5},{"s":"r","w":10200,"f":1.8e5},{"s":"r","w":10300,"f":1.72e5},{"s":"r","w":10400,"f":1.95e5},{"s":"r","w":10500,"f":2.05e5},{"s":"r","w":10600,"f":1.62e5},{"s":"r","w":10700,"f":2.0e5},{"s":"r","w":10800,"f":2.15e5},{"s":"r","w":10900,"f":2.3e5},{"s":"r","w":11000,"f":2.32e5},{"s":"r","w":11100,"f":1.72e5},{"s":"r","w":11200,"f":2.0e5},{"s":"r","w":11300,"f":2.25e5},{"s":"r","w":11400,"f":2.35e5},{"s":"r","w":11500,"f":2.42e5},{"s":"r","w":11600,"f":2.38e5},{"s":"r","w":11700,"f":2.35e5},{"s":"r","w":11800,"f":2.3e5},{"s":"r","w":11900,"f":2.28e5},{"s":"r","w":12000,"f":2.05e5},{"s":"r","w":12100,"f":2.4e5},{"s":"r","w":12200,"f":2.45e5},{"s":"r","w":12300,"f":2.47e5},{"s":"r","w":12400,"f":2.35e5},{"s":"r","w":12500,"f":2.1e5},{"s":"r","w":12600,"f":2.35e5},{"s":"r","w":12700,"f":2.38e5},{"s":"r","w":12800,"f":2.4e5},{"s":"r","w":12900,"f":2.5e5},{"s":"r","w":13000,"f":2.55e5},{"s":"r","w":13100,"f":2.58e5},{"s":"r","w":13200,"f":2.55e5},{"s":"r","w":13300,"f":2.6e5},{"s":"r","w":13400,"f":2.62e5},{"s":"r","w":13500,"f":2.6e5},{"s":"r","w":13600,"f":2.68e5},{"s":"r","w":13700,"f":2.72e5},{"s":"r","w":13800,"f":2.78e5},{"s":"r","w":13900,"f":2.75e5},{"s":"r","w":14000,"f":2.65e5}
    ],
    "inset": [
      {"s":"k","w":3000,"f":1.4e5},{"s":"k","w":3300,"f":1.41e5},{"s":"k","w":3450,"f":1.44e5},{"s":"k","w":3530,"f":1.49e5},{"s":"k","w":3600,"f":1.45e5},{"s":"k","w":3700,"f":1.6e5},{"s":"k","w":3780,"f":1.5e5},{"s":"k","w":3890,"f":1.6e5},{"s":"k","w":3950,"f":1.5e5},{"s":"k","w":4040,"f":1.75e5},{"s":"k","w":4100,"f":1.63e5},{"s":"k","w":4200,"f":1.49e5},{"s":"k","w":4300,"f":1.42e5},{"s":"k","w":4400,"f":1.41e5},{"s":"k","w":4500,"f":1.42e5},{"s":"k","w":4600,"f":1.46e5},{"s":"k","w":4700,"f":1.42e5},{"s":"k","w":4800,"f":1.5e5},{"s":"k","w":4900,"f":1.47e5},{"s":"k","w":5000,"f":1.52e5},{"s":"k","w":5100,"f":1.55e5},{"s":"k","w":5200,"f":1.48e5},{"s":"k","w":5300,"f":1.52e5},{"s":"k","w":5400,"f":1.5e5},{"s":"k","w":5500,"f":1.52e5},{"s":"k","w":5600,"f":1.48e5},{"s":"k","w":5700,"f":1.47e5},{"s":"k","w":5800,"f":1.5e5},{"s":"k","w":5900,"f":1.46e5},{"s":"k","w":6000,"f":1.53e5},{"s":"k","w":6100,"f":1.55e5},{"s":"k","w":6200,"f":1.5e5},{"s":"k","w":6300,"f":1.52e5},{"s":"k","w":6400,"f":1.58e5},{"s":"k","w":6470,"f":1.8e5},{"s":"k","w":6520,"f":1.5e5},
      {"s":"n","w":3000,"f":1.4e5},{"s":"n","w":3450,"f":1.43e5},{"s":"n","w":3530,"f":1.48e5},{"s":"n","w":3600,"f":1.44e5},{"s":"n","w":3700,"f":1.58e5},{"s":"n","w":3780,"f":1.49e5},{"s":"n","w":3890,"f":1.58e5},{"s":"n","w":3950,"f":1.49e5},{"s":"n","w":4040,"f":1.72e5},{"s":"n","w":4100,"f":1.6e5},{"s":"n","w":4200,"f":1.47e5},{"s":"n","w":4300,"f":1.42e5},{"s":"n","w":4600,"f":1.45e5},{"s":"n","w":4800,"f":1.49e5},{"s":"n","w":5100,"f":1.54e5},{"s":"n","w":5300,"f":1.51e5},{"s":"n","w":5600,"f":1.47e5},{"s":"n","w":6000,"f":1.52e5},{"s":"n","w":6300,"f":1.51e5},{"s":"n","w":6400,"f":1.56e5},{"s":"n","w":6470,"f":1.75e5},{"s":"n","w":6520,"f":1.49e5},
      {"s":"b","w":3000,"f":1.4e5},{"s":"b","w":3450,"f":1.43e5},{"s":"b","w":3530,"f":1.47e5},{"s":"b","w":3600,"f":1.44e5},{"s":"b","w":3700,"f":1.56e5},{"s":"b","w":3780,"f":1.48e5},{"s":"b","w":3890,"f":1.56e5},{"s":"b","w":3950,"f":1.48e5},{"s":"b","w":4040,"f":1.7e5},{"s":"b","w":4100,"f":1.58e5},{"s":"b","w":4200,"f":1.46e5},{"s":"b","w":4300,"f":1.42e5},{"s":"b","w":4600,"f":1.45e5},{"s":"b","w":4800,"f":1.49e5},{"s":"b","w":5100,"f":1.53e5},{"s":"b","w":5300,"f":1.5e5},{"s":"b","w":5600,"f":1.47e5},{"s":"b","w":6000,"f":1.51e5},{"s":"b","w":6300,"f":1.5e5},{"s":"b","w":6400,"f":1.55e5},{"s":"b","w":6470,"f":1.72e5},{"s":"b","w":6520,"f":1.48e5},
      {"s":"c","w":3000,"f":1.4e5},{"s":"c","w":3530,"f":1.46e5},{"s":"c","w":3600,"f":1.43e5},{"s":"c","w":3700,"f":1.52e5},{"s":"c","w":3780,"f":1.46e5},{"s":"c","w":3890,"f":1.53e5},{"s":"c","w":3950,"f":1.46e5},{"s":"c","w":4040,"f":1.65e5},{"s":"c","w":4100,"f":1.55e5},{"s":"c","w":4200,"f":1.45e5},{"s":"c","w":4300,"f":1.41e5},{"s":"c","w":4800,"f":1.48e5},{"s":"c","w":5100,"f":1.53e5},{"s":"c","w":5300,"f":1.5e5},{"s":"c","w":5600,"f":1.46e5},{"s":"c","w":6000,"f":1.5e5},{"s":"c","w":6400,"f":1.54e5},{"s":"c","w":6470,"f":1.65e5},{"s":"c","w":6520,"f":1.47e5},
      {"s":"g","w":3000,"f":1.4e5},{"s":"g","w":3530,"f":1.44e5},{"s":"g","w":3700,"f":1.48e5},{"s":"g","w":3890,"f":1.5e5},{"s":"g","w":4040,"f":1.6e5},{"s":"g","w":4100,"f":1.52e5},{"s":"g","w":4200,"f":1.44e5},{"s":"g","w":4500,"f":1.42e5},{"s":"g","w":4800,"f":1.48e5},{"s":"g","w":4900,"f":1.43e5},{"s":"g","w":5000,"f":1.5e5},{"s":"g","w":5100,"f":1.55e5},{"s":"g","w":5200,"f":1.44e5},{"s":"g","w":5310,"f":1.52e5},{"s":"g","w":5500,"f":1.45e5},{"s":"g","w":5850,"f":1.48e5},{"s":"g","w":6100,"f":1.5e5},{"s":"g","w":6400,"f":1.52e5},{"s":"g","w":6470,"f":1.6e5},{"s":"g","w":6520,"f":1.46e5},
      {"s":"y","w":3000,"f":1.4e5},{"s":"y","w":3530,"f":1.43e5},{"s":"y","w":3700,"f":1.46e5},{"s":"y","w":3890,"f":1.47e5},{"s":"y","w":4040,"f":1.55e5},{"s":"y","w":4100,"f":1.5e5},{"s":"y","w":4200,"f":1.43e5},{"s":"y","w":4500,"f":1.43e5},{"s":"y","w":4800,"f":1.52e5},{"s":"y","w":4900,"f":1.44e5},{"s":"y","w":5000,"f":1.52e5},{"s":"y","w":5100,"f":1.58e5},{"s":"y","w":5200,"f":1.45e5},{"s":"y","w":5310,"f":1.55e5},{"s":"y","w":5500,"f":1.46e5},{"s":"y","w":5850,"f":1.5e5},{"s":"y","w":6100,"f":1.52e5},{"s":"y","w":6400,"f":1.5e5},{"s":"y","w":6470,"f":1.58e5},{"s":"y","w":6520,"f":1.45e5},
      {"s":"p","w":3000,"f":1.4e5},{"s":"p","w":3500,"f":1.41e5},{"s":"p","w":4040,"f":1.5e5},{"s":"p","w":4200,"f":1.42e5},{"s":"p","w":4500,"f":1.45e5},{"s":"p","w":4600,"f":1.55e5},{"s":"p","w":4700,"f":1.44e5},{"s":"p","w":4790,"f":1.65e5},{"s":"p","w":4880,"f":1.55e5},{"s":"p","w":4970,"f":1.7e5},{"s":"p","w":5080,"f":1.88e5},{"s":"p","w":5150,"f":1.65e5},{"s":"p","w":5240,"f":1.55e5},{"s":"p","w":5310,"f":1.78e5},{"s":"p","w":5400,"f":1.6e5},{"s":"p","w":5500,"f":1.62e5},{"s":"p","w":5600,"f":1.52e5},{"s":"p","w":5730,"f":1.5e5},{"s":"p","w":5850,"f":1.65e5},{"s":"p","w":5920,"f":1.48e5},{"s":"p","w":6000,"f":1.6e5},{"s":"p","w":6135,"f":1.72e5},{"s":"p","w":6230,"f":1.6e5},{"s":"p","w":6365,"f":1.78e5},{"s":"p","w":6410,"f":1.6e5},{"s":"p","w":6473,"f":2.0e5},{"s":"p","w":6527,"f":1.45e5},
      {"s":"r","w":3000,"f":1.4e5},{"s":"r","w":3500,"f":1.41e5},{"s":"r","w":4040,"f":1.47e5},{"s":"r","w":4200,"f":1.41e5},{"s":"r","w":4350,"f":1.45e5},{"s":"r","w":4470,"f":1.42e5},{"s":"r","w":4608,"f":1.8e5},{"s":"r","w":4700,"f":1.42e5},{"s":"r","w":4790,"f":2.1e5},{"s":"r","w":4878,"f":1.88e5},{"s":"r","w":4970,"f":2.14e5},{"s":"r","w":5081,"f":2.43e5},{"s":"r","w":5150,"f":2.0e5},{"s":"r","w":5240,"f":1.85e5},{"s":"r","w":5310,"f":2.43e5},{"s":"r","w":5375,"f":1.85e5},{"s":"r","w":5510,"f":1.89e5},{"s":"r","w":5600,"f":1.67e5},{"s":"r","w":5730,"f":1.59e5},{"s":"r","w":5850,"f":2.29e5},{"s":"r","w":5920,"f":1.5e5},{"s":"r","w":6000,"f":1.89e5},{"s":"r","w":6135,"f":2.43e5},{"s":"r","w":6230,"f":2.01e5},{"s":"r","w":6300,"f":1.89e5},{"s":"r","w":6365,"f":2.39e5},{"s":"r","w":6405,"f":1.72e5},{"s":"r","w":6473,"f":3.09e5},{"s":"r","w":6527,"f":1.5e5}
    ],
    "molLabels": [
      {"t":"TiO","w":5740,"f":4.15e5},
      {"t":"ZrO","w":5740,"f":3.59e5}
    ],
    "filterLabels": [
      {"t":"U","w":3486,"f":1.14e5},
      {"t":"B₁","w":4090,"f":1.12e5},
      {"t":"B₂","w":4520,"f":1.12e5},
      {"t":"V₁V","w":5510,"f":1.12e5}
    ],
    "jLabel": [
      {"t":"J","w":13014,"f":1.34e5}
    ]
  },
  "layer": [
    {
      "data": {"name": "filters"},
      "mark": {"type": "line", "strokeDash": [0.5, 5], "strokeCap": "round", "strokeWidth": 2.6, "color": "#626262", "clip": true},
      "encoding": {
        "x": {
          "field": "w", "type": "quantitative",
          "scale": {"domain": [3000, 14000], "nice": false, "zero": false},
          "axis": {
            "orient": "bottom", "offset": -12, "values": [4000, 6000, 8000, 10000, 12000, 14000],
            "ticks": true, "tickSize": 12, "labelPadding": 21,
            "labelFont": "Liberation Sans", "labelFontSize": 19,
            "labelExpr": "datum.value < 10000 ? format(datum.value, 'd') : (datum.value == 10000 ? '10⁴' : format(datum.value / 10000, '.1f') + '×10⁴')",
            "title": "Wavelength (Å)", "titleFont": "Liberation Mono", "titleFontSize": 19, "titleFontWeight": "bold", "titlePadding": 8
          }
        },
        "y": {
          "field": "f", "type": "quantitative",
          "scale": {"domain": [0, 450000], "nice": false, "zero": true},
          "axis": {
            "orient": "left", "offset": -12, "values": [0, 100000, 200000, 300000, 400000],
            "ticks": true, "tickSize": 12, "labelPadding": 12,
            "labelFont": "Liberation Sans", "labelFontSize": 19,
            "labelExpr": "datum.value == 0 ? '0' : (datum.value == 100000 ? '10⁵' : format(datum.value / 100000, 'd') + '×10⁵')",
            "title": "Flux (erg/s/cm²/Å)", "titleFont": "Liberation Mono", "titleFontSize": 19, "titleFontWeight": "bold", "titlePadding": 6
          }
        },
        "detail": {"field": "fl", "type": "nominal"}
      }
    },
    {
      "data": {"name": "spec"},
      "mark": {"type": "line", "strokeWidth": 1.8, "clip": true},
      "encoding": {
        "x": {"field": "w", "type": "quantitative", "scale": {"domain": [3000, 14000], "nice": false, "zero": false}},
        "y": {"field": "f", "type": "quantitative", "scale": {"domain": [0, 450000], "nice": false, "zero": true}},
        "color": {
          "field": "s", "type": "nominal", "legend": null,
          "scale": {"domain": ["k", "n", "b", "c", "g", "y", "p", "r"], "range": ["#000000", "#0c0c8c", "#1f3cff", "#30e0f0", "#40dd3a", "#f2f020", "#a832e0", "#b0201a"]}
        }
      }
    },
    {
      "data": {"name": "inset"},
      "mark": {"type": "line", "strokeWidth": 1.8, "clip": true},
      "encoding": {
        "x": {"field": "w", "type": "quantitative", "scale": {"domain": [3000, 14000], "nice": false, "zero": false}},
        "y": {"field": "f", "type": "quantitative", "scale": {"domain": [0, 450000], "nice": false, "zero": true}},
        "color": {
          "field": "s", "type": "nominal", "legend": null,
          "scale": {"domain": ["k", "n", "b", "c", "g", "y", "p", "r"], "range": ["#000000", "#0c0c8c", "#1f3cff", "#30e0f0", "#40dd3a", "#f2f020", "#a832e0", "#b0201a"]}
        }
      }
    },
    {
      "data": {"name": "bands"},
      "mark": {"type": "line", "strokeWidth": 1.9, "color": "#111111", "clip": true},
      "encoding": {
        "x": {"field": "w", "type": "quantitative", "scale": {"domain": [3000, 14000], "nice": false, "zero": false}},
        "y": {"field": "f", "type": "quantitative", "scale": {"domain": [0, 450000], "nice": false, "zero": true}},
        "detail": {"field": "m", "type": "nominal"}
      }
    },
    {
      "data": {"name": "xt"},
      "transform": [{"filter": "datum.k == 'major'"}],
      "mark": {"type": "rule", "color": "#222222", "strokeWidth": 1.4, "clip": true},
      "encoding": {
        "x": {"field": "w", "type": "quantitative", "scale": {"domain": [3000, 14000], "nice": false, "zero": false}},
        "y": {"datum": 450000, "type": "quantitative", "scale": {"domain": [0, 450000], "nice": false, "zero": true}},
        "y2": {"datum": 434800}
      }
    },
    {
      "data": {"name": "xt"},
      "transform": [{"filter": "datum.k == 'minor'"}],
      "mark": {"type": "rule", "color": "#222222", "strokeWidth": 1.3, "clip": true},
      "encoding": {
        "x": {"field": "w", "type": "quantitative", "scale": {"domain": [3000, 14000], "nice": false, "zero": false}},
        "y": {"datum": 0, "type": "quantitative", "scale": {"domain": [0, 450000], "nice": false, "zero": true}},
        "y2": {"datum": 7600}
      }
    },
    {
      "data": {"name": "xt"},
      "transform": [{"filter": "datum.k == 'minor'"}],
      "mark": {"type": "rule", "color": "#222222", "strokeWidth": 1.3, "clip": true},
      "encoding": {
        "x": {"field": "w", "type": "quantitative", "scale": {"domain": [3000, 14000], "nice": false, "zero": false}},
        "y": {"datum": 450000, "type": "quantitative", "scale": {"domain": [0, 450000], "nice": false, "zero": true}},
        "y2": {"datum": 442400}
      }
    },
    {
      "data": {"name": "yt"},
      "transform": [{"filter": "datum.k == 'major'"}],
      "mark": {"type": "rule", "color": "#222222", "strokeWidth": 1.4, "clip": true},
      "encoding": {
        "y": {"field": "f", "type": "quantitative", "scale": {"domain": [0, 450000], "nice": false, "zero": true}},
        "x": {"datum": 14000, "type": "quantitative", "scale": {"domain": [3000, 14000], "nice": false, "zero": false}},
        "x2": {"datum": 13838}
      }
    },
    {
      "data": {"name": "yt"},
      "transform": [{"filter": "datum.k == 'minor'"}],
      "mark": {"type": "rule", "color": "#222222", "strokeWidth": 1.3, "clip": true},
      "encoding": {
        "y": {"field": "f", "type": "quantitative", "scale": {"domain": [0, 450000], "nice": false, "zero": true}},
        "x": {"datum": 3000, "type": "quantitative", "scale": {"domain": [3000, 14000], "nice": false, "zero": false}},
        "x2": {"datum": 3081}
      }
    },
    {
      "data": {"name": "yt"},
      "transform": [{"filter": "datum.k == 'minor'"}],
      "mark": {"type": "rule", "color": "#222222", "strokeWidth": 1.3, "clip": true},
      "encoding": {
        "y": {"field": "f", "type": "quantitative", "scale": {"domain": [0, 450000], "nice": false, "zero": true}},
        "x": {"datum": 14000, "type": "quantitative", "scale": {"domain": [3000, 14000], "nice": false, "zero": false}},
        "x2": {"datum": 13919}
      }
    },
    {
      "data": {"name": "molLabels"},
      "mark": {"type": "text", "font": "Liberation Sans", "fontSize": 19, "color": "#333333", "align": "center", "baseline": "middle"},
      "encoding": {
        "x": {"field": "w", "type": "quantitative", "scale": {"domain": [3000, 14000], "nice": false, "zero": false}},
        "y": {"field": "f", "type": "quantitative", "scale": {"domain": [0, 450000], "nice": false, "zero": true}},
        "text": {"field": "t", "type": "nominal"}
      }
    },
    {
      "data": {"name": "filterLabels"},
      "mark": {"type": "text", "font": "Liberation Serif", "fontSize": 21, "color": "#4a4a4a", "align": "center", "baseline": "middle"},
      "encoding": {
        "x": {"field": "w", "type": "quantitative", "scale": {"domain": [3000, 14000], "nice": false, "zero": false}},
        "y": {"field": "f", "type": "quantitative", "scale": {"domain": [0, 450000], "nice": false, "zero": true}},
        "text": {"field": "t", "type": "nominal"}
      }
    },
    {
      "data": {"name": "jLabel"},
      "mark": {"type": "text", "font": "Liberation Sans", "fontSize": 18, "fontWeight": "bold", "color": "#333333", "align": "center", "baseline": "middle"},
      "encoding": {
        "x": {"field": "w", "type": "quantitative", "scale": {"domain": [3000, 14000], "nice": false, "zero": false}},
        "y": {"field": "f", "type": "quantitative", "scale": {"domain": [0, 450000], "nice": false, "zero": true}},
        "text": {"field": "t", "type": "nominal"}
      }
    }
  ]
}
